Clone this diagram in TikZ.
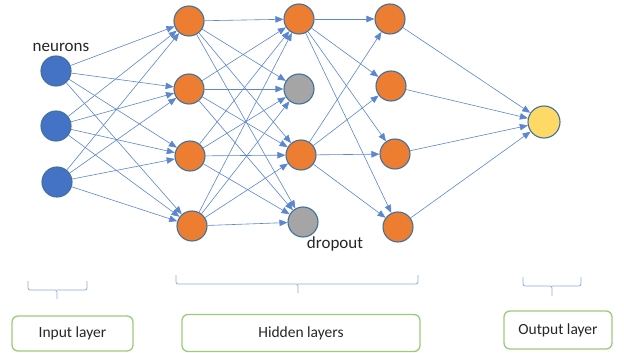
\documentclass[tikz,border=0pt]{standalone}
\usepackage{fontspec}
\setmainfont{Carlito}
\usetikzlibrary{arrows.meta}
\definecolor{inblue}{HTML}{4472C4}
\definecolor{hidorange}{HTML}{ED7D31}
\definecolor{dropgray}{HTML}{A5A5A5}
\definecolor{outyellow}{HTML}{FFD966}
\definecolor{rim}{HTML}{41719C}
\definecolor{wirecol}{HTML}{5B86D0}
\definecolor{bracecol}{HTML}{8FAADC}
\definecolor{boxgreen}{HTML}{9BCB7A}
\definecolor{inktext}{HTML}{262626}
\begin{document}
\begin{tikzpicture}[x=1pt,y=-1pt,
  neuron/.style={circle, draw=rim, line width=1.1pt, minimum size=30pt, inner sep=0pt},
  wire/.style={draw=wirecol, line width=0.6pt, -{Triangle[length=8pt,width=6.5pt]}},
  layerbox/.style={draw=boxgreen, line width=1.3pt, rounded corners=6pt, inner sep=0pt,
                   text=inktext, font=\fontsize{15.5}{18}\selectfont},
  tag/.style={text=inktext, font=\fontsize{17}{20}\selectfont, inner sep=0pt},
  bracket/.style={draw=bracecol, line width=0.8pt, rounded corners=2pt}]
\useasboundingbox (0,0) rectangle (624,353);

% input layer
\node[neuron, fill=inblue] (i1) at (56,71) {};
\node[neuron, fill=inblue] (i2) at (56,126) {};
\node[neuron, fill=inblue] (i3) at (57,182) {};

% first hidden layer
\node[neuron, fill=hidorange] (a1) at (189,21) {};
\node[neuron, fill=hidorange] (a2) at (189,89) {};
\node[neuron, fill=hidorange] (a3) at (190,156) {};
\node[neuron, fill=hidorange] (a4) at (192,226) {};

% second hidden layer, two neurons dropped
\node[neuron, fill=hidorange] (b1) at (299,19) {};
\node[neuron, fill=dropgray]  (b2) at (299,89) {};
\node[neuron, fill=hidorange] (b3) at (301,155) {};
\node[neuron, fill=dropgray]  (b4) at (303,222) {};

% third hidden layer
\node[neuron, fill=hidorange] (c1) at (390,19) {};
\node[neuron, fill=hidorange] (c2) at (391,86) {};
\node[neuron, fill=hidorange] (c3) at (395,154) {};
\node[neuron, fill=hidorange] (c4) at (398,227) {};

% output
\node[neuron, fill=outyellow, minimum size=32pt] (o) at (544,122) {};

% labels
\node[tag] (lblneurons) at (61,47) {neurons};
\node[tag] (lbldropout) at (335,244) {dropout};

% connections
\foreach \s in {i1,i2,i3}
  \foreach \t in {a1,a2,a3,a4}
    \draw[wire] (\s) -- (\t);
\foreach \s in {a1,a2,a3,a4}
  \foreach \t in {b1,b2,b3,b4}
    \draw[wire] (\s) -- (\t);
\foreach \s in {b1,b3}
  \foreach \t in {c1,c2,c3,c4}
    \draw[wire] (\s) -- (\t);
\foreach \s in {c1,c2,c3,c4}
  \draw[wire] (\s) -- (o);

% braces under the layers
\draw[bracket] (28,281) -- (28,290) -- (57,290) -- (57,299);
\draw[bracket] (57,290) -- (87,290) -- (87,281);
\draw[bracket] (176,275) -- (176,284) -- (298,284) -- (298,293);
\draw[bracket] (298,284) -- (418,284) -- (418,275);
\draw[bracket] (523,277) -- (523,286) -- (552,286) -- (552,296);
\draw[bracket] (552,286) -- (581,286) -- (581,277);

% layer captions
\node[layerbox, minimum width=121pt, minimum height=35pt] (inbox) at (72.5,333.5) {Input layer};
\node[layerbox, minimum width=238pt, minimum height=37pt] (hidbox) at (301,333) {Hidden layers};
\node[layerbox, minimum width=108pt, minimum height=38pt] (outbox) at (558,330) {Output layer};
\end{tikzpicture}
\end{document}
